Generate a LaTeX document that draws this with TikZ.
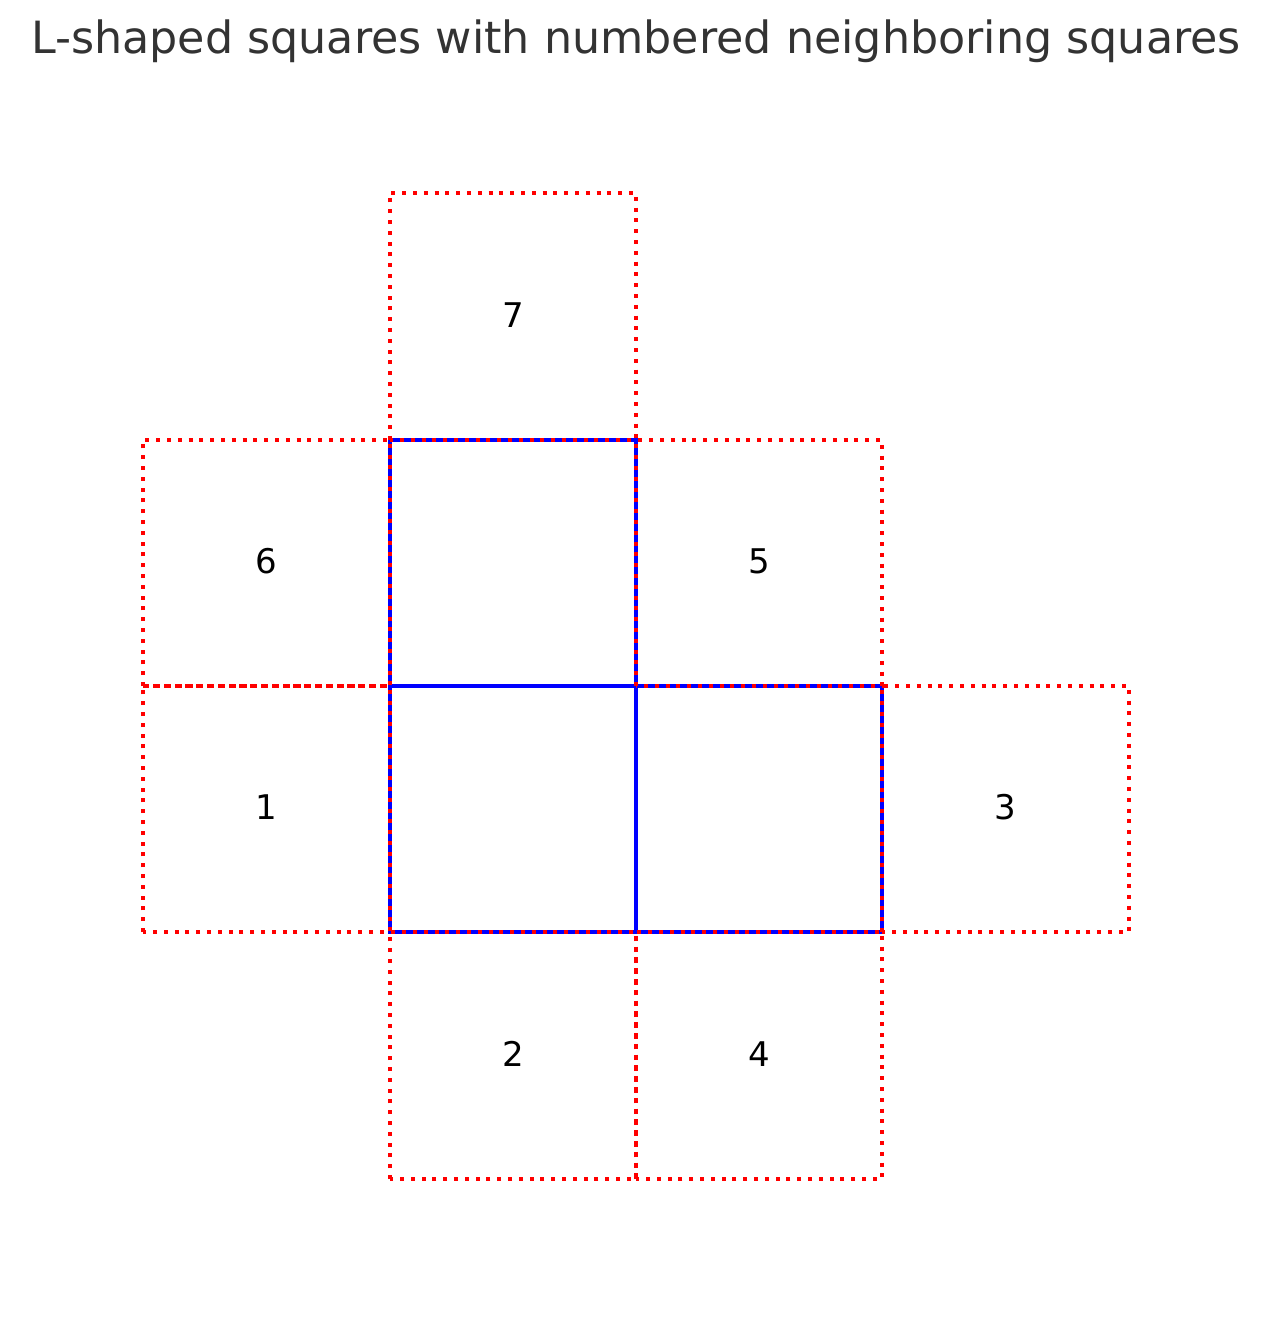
\documentclass[tikz,border=0pt]{standalone}
\usepackage{fontspec}
\setmainfont{DejaVu Sans}
\begin{document}
\begin{tikzpicture}[x=1pt,y=-1pt,
  bluesq/.style={draw=blue,line width=3.8pt},
  redsq/.style={draw=red,line width=3.8pt,dash pattern=on 4pt off 6.8pt},
  lab/.style={font=\fontsize{34}{40}\selectfont,text=black},
  ttl/.style={font=\fontsize{44.4}{54}\selectfont,text={rgb,255:red,51;green,51;blue,51}}]
\useasboundingbox (0,0) rectangle (1272,1322);
\node[ttl] (title) at (636,41.5) {L-shaped squares with numbered neighboring squares};
% blue L
\draw[bluesq] (390,686) rectangle (636,440);
\draw[bluesq] (390,932) rectangle (636,686);
\draw[bluesq] (636,932) rectangle (882,686);
% red neighbors (drawn from lower-left corner, counter-clockwise)
\draw[redsq] (143,932) rectangle (390,686);
\draw[redsq] (390,1179) rectangle (636,932);
\draw[redsq] (882,932) rectangle (1129,686);
\draw[redsq] (636,1179) rectangle (882,932);
\draw[redsq] (636,686) rectangle (882,440);
\draw[redsq] (143,686) rectangle (390,440);
\draw[redsq] (390,440) rectangle (636,193);
\node[lab] (n1) at (266.5,807.5) {1};
\node[lab] (n2) at (513,1054) {2};
\node[lab] (n3) at (1005.5,807.5) {3};
\node[lab] (n4) at (759,1054) {4};
\node[lab] (n5) at (759,561.5) {5};
\node[lab] (n6) at (266.5,561.5) {6};
\node[lab] (n7) at (513,315) {7};
\end{tikzpicture}
\end{document}
